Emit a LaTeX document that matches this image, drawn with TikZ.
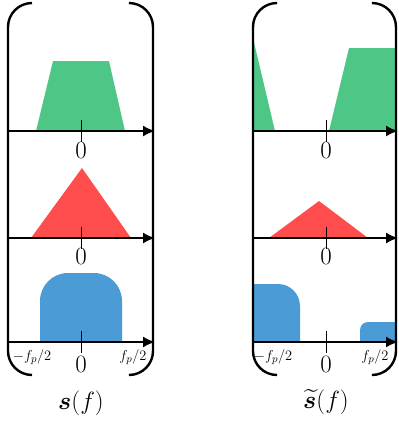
\documentclass[tikz,border=0pt]{standalone}
\usepackage{amsmath,bm}
\usetikzlibrary{arrows.meta, positioning}
\definecolor{specGreen}{RGB}{78, 199, 134}
\definecolor{specRed}{RGB}{255, 76, 76}
\definecolor{specBlue}{RGB}{74, 155, 214}

\begin{document}
\begin{tikzpicture}[
    x=1pt, y=-1pt,
    bracket/.style={line width=2.4pt, rounded corners=24pt},
    axis/.style={-{Latex[length=12pt, width=11pt]}, line width=1.6pt},
    tickmark/.style={line width=1pt},
    zero/.style={font=\fontsize{24}{28}\selectfont, inner sep=0pt},
    edgelbl/.style={font=\fontsize{15}{18}\selectfont, inner sep=0pt},
    title/.style={font=\fontsize{23}{28}\selectfont, inner sep=0pt}
]
    \useasboundingbox (0,0) rectangle (399,421);

    % Spectra, left panel
    \fill[specGreen] (36,131) -- (53,61) -- (109,61) -- (125,131) -- cycle;
    \fill[specRed] (31,238) -- (82,168) -- (131,238) -- cycle;
    \fill[specBlue] (40,342) [rounded corners=28pt] -- (40,273) -- (122,273) [sharp corners] -- (122,342) -- cycle;

    % Spectra, right panel
    \begin{scope}
        \clip (253,0) rectangle (396,421);
        \fill[specGreen] (253,38) -- (275,131) -- (253,131) -- cycle;
        \fill[specGreen] (329,131) -- (349,48) -- (400,48) -- (400,131) -- cycle;
        \fill[specRed] (269,238) -- (319,201) -- (368,238) -- cycle;
        \fill[specBlue] (253,342) -- (253,284) [rounded corners=22pt] -- (300,284) [sharp corners] -- (300,342) -- cycle;
        \fill[specBlue] (400,342) -- (400,322) [rounded corners=8pt] -- (360,322) [sharp corners] -- (360,342) -- cycle;
    \end{scope}

    % Axes
    \foreach \ya/\yz [count=\i] in {131/150, 238/256, 342/364} {
        \coordinate (sL\i) at (8,\ya);
        \coordinate (sR\i) at (155,\ya);
        \coordinate (tL\i) at (253,\ya);
        \coordinate (tR\i) at (398,\ya);
        \draw[tickmark] (81,\ya-11) -- (81,\ya+11);
        \draw[tickmark] (326,\ya-11) -- (326,\ya+11);
        \draw[axis] (sL\i) -- (sR\i);
        \draw[axis] (tL\i) -- (tR\i);
        \node[zero] (sZero\i) at (81,\yz) {$0$};
        \node[zero] (tZero\i) at (326,\yz) {$0$};
    }

    % Band edges
    \node[edgelbl] (sMinus) at (32,357) {$-f_p/2$};
    \node[edgelbl] (sPlus) at (133,357) {$f_p/2$};
    \node[edgelbl] (tMinus) at (273,357) {$-f_p/2$};
    \node[edgelbl] (tPlus) at (375,357) {$f_p/2$};

    % Brackets
    \draw[bracket] (32,3) -- (8,3) -- (8,375) -- (32,375);
    \draw[bracket] (130,3) -- (153,3) -- (153,375) -- (130,375);
    \draw[bracket] (276,3) -- (253,3) -- (253,375) -- (276,375);
    \draw[bracket] (374,3) -- (396,3) -- (396,375) -- (374,375);

    % Titles
    \node[title] (sTitle) at (81,403) {$\bm{s}(f)$};
    \node[title] (tTitle) at (326,402) {$\widetilde{\bm{s}}(f)$};
\end{tikzpicture}
\end{document}
